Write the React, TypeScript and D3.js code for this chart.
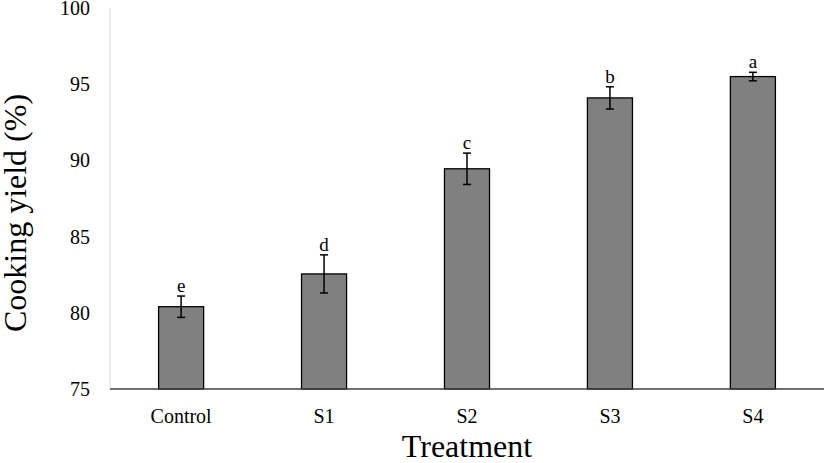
import * as d3 from "d3";

const categories = ["Control", "S1", "S2", "S3", "S4"];
const means = [80.4, 82.55, 89.45, 94.1, 95.5];
const errors = [0.7, 1.25, 1.03, 0.73, 0.28];
const letters = ["e", "d", "c", "b", "a"];
const yTicks = [75, 80, 85, 90, 95, 100];

const width = 827,
  height = 463;
const margin = { top: 8, right: 3, bottom: 74, left: 110 };
const font = "'Liberation Serif', 'Times New Roman', serif";

export default function App() {
  const x = d3
    .scaleBand()
    .domain(categories)
    .range([margin.left, width - margin.right])
    .paddingInner(0.685)
    .paddingOuter(0.34);

  const y = d3
    .scaleLinear()
    .domain([75, 100])
    .range([height - margin.bottom, margin.top]);

  const y0 = y(75);
  const capW = 4;

  return (
    <svg
      width={width}
      height={height}
      style={{ position: "absolute", left: 0, top: 0, background: "white" }}
      fontFamily={font}
    >
      {/* left axis line, pale */}
      <line x1={margin.left} x2={margin.left} y1={y(100)} y2={y0} stroke="#d9d9d9" strokeWidth={1} />

      {yTicks.map((t) => (
        <text key={t} x={margin.left - 20} y={y(t)} dy="0.35em" textAnchor="end" fontSize={20} fill="#000">
          {t}
        </text>
      ))}

      {categories.map((c, i) => {
        const bx = x(c)!;
        const cx = bx + x.bandwidth() / 2;
        const hi = y(means[i] + errors[i]);
        const lo = y(means[i] - errors[i]);
        return (
          <g key={c}>
            <rect
              x={bx}
              y={y(means[i])}
              width={x.bandwidth()}
              height={y0 - y(means[i])}
              fill="#808080"
              stroke="#000"
              strokeWidth={1.3}
            />
            <line x1={cx} x2={cx} y1={hi} y2={lo} stroke="#000" strokeWidth={1.5} />
            <line x1={cx - capW} x2={cx + capW} y1={hi} y2={hi} stroke="#000" strokeWidth={1.5} />
            <line x1={cx - capW} x2={cx + capW} y1={lo} y2={lo} stroke="#000" strokeWidth={1.5} />
            <text x={cx} y={hi - 4} textAnchor="middle" fontSize={19} fill="#000">
              {letters[i]}
            </text>
            <text x={cx} y={423} textAnchor="middle" fontSize={20} fill="#000">
              {c}
            </text>
          </g>
        );
      })}

      {/* bottom axis line */}
      <line x1={margin.left} x2={width - margin.right} y1={y0} y2={y0} stroke="#404040" strokeWidth={1.5} />

      <text x={467} y={457} textAnchor="middle" fontSize={32} fill="#000">
        Treatment
      </text>
      <text
        transform={`translate(26,${213}) rotate(-90)`}
        textAnchor="middle"
        fontSize={32}
        fill="#000"
      >
        Cooking yield (%)
      </text>
    </svg>
  );
}
